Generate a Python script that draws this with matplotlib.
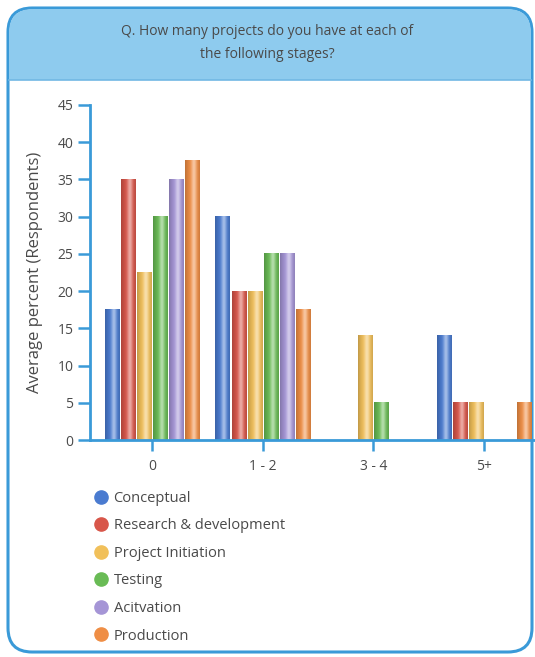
import matplotlib
matplotlib.use("Agg")
import matplotlib.pyplot as plt
import numpy as np
from matplotlib.patches import FancyBboxPatch, Rectangle
from matplotlib.lines import Line2D
from matplotlib.colors import to_rgb

plt.rcParams['font.family'] = ['Open Sans', 'DejaVu Sans']

groups = ["0", "1 - 2", "3 - 4", "5+"]
series = ["Conceptual", "Research & development", "Project Initiation",
          "Testing", "Acitvation", "Production"]
conceptual = [17.5, 30, 0, 14]
research = [35, 20, 0, 5]
initiation = [22.5, 20, 14, 5]
testing = [30, 25, 5, 0]
activation = [35, 25, 0, 0]
production = [37.5, 17.5, 0, 5]
values = [conceptual, research, initiation, testing, activation, production]
colors = ["#4a7bd0", "#d8564a", "#f1c05a", "#69bb55", "#a595d6", "#ef8e45"]

blue = "#3a9ad8"
text_col = "#4a4a4a"

fig = plt.figure(figsize=(5.35, 6.57), dpi=100)

# outer rounded frame and header band
W, H = 535, 657
def fx(px): return px / W
def fy(py): return 1 - py / H

frame = FancyBboxPatch((fx(8), fy(652)), fx(524), 644 / H,
                       boxstyle="round,pad=0,rounding_size=0.045",
                       transform=fig.transFigure, fc="white", ec=blue, lw=2.2,
                       zorder=0, mutation_aspect=W / H)
fig.add_artist(frame)
header = FancyBboxPatch((fx(9), fy(79)), fx(522), 70 / H,
                        boxstyle="round,pad=0,rounding_size=0.045",
                        transform=fig.transFigure, fc="#8ecbee", ec="none",
                        zorder=1, mutation_aspect=W / H)
fig.add_artist(header)
fig.add_artist(Rectangle((fx(9), fy(80)), fx(522), 40 / H,
                         transform=fig.transFigure, fc="#8ecbee", ec="none", zorder=1))
fig.add_artist(Line2D([fx(9), fx(531)], [fy(80), fy(80)], transform=fig.transFigure,
                      color="#72b8e4", lw=1.2, zorder=2))
fig.text(0.5, fy(43), "Q. How many projects do you have at each of\nthe following stages?",
         ha="center", va="center", fontsize=10, color=text_col, linespacing=1.75, zorder=3)

ax = fig.add_axes([fx(90), fy(440), 1 - fx(90), (440 - 105) / H])
ax.set_facecolor("none")

x = np.arange(len(groups))
slot = 0.145
width = 0.128


def shade(c):
    # cylindrical look: darker edges, light streak right of centre
    base = np.array(to_rgb(c))
    t = np.linspace(0, 1, 40)
    light = 0.5 * np.exp(-((t - 0.6) / 0.18) ** 2)
    dark = 0.2 * (np.abs(t - 0.55) / 0.55) ** 2
    rgb = base[None, :] * (1 - dark[:, None])
    rgb = rgb + (1 - rgb) * light[:, None]
    return np.clip(rgb, 0, 1)[None, :, :]


for i, (vals, c) in enumerate(zip(values, colors)):
    pos = x + (i - 2.5) * slot
    bars = ax.bar(pos, vals, width=width, color=c, zorder=2)
    for b in bars:
        if b.get_height() <= 0:
            continue
        ax.imshow(shade(c), extent=[b.get_x(), b.get_x() + b.get_width(), 0, b.get_height()],
                  aspect="auto", zorder=3, interpolation="bilinear")

ax.set_xlim(-0.56, 3.46)
ax.set_ylim(0, 45)
ax.set_yticks(np.arange(0, 46, 5))
ax.set_xticks(x)
ax.set_xticklabels(groups)

for s in ["top", "right"]:
    ax.spines[s].set_visible(False)
for s in ["left", "bottom"]:
    ax.spines[s].set_color(blue)
    ax.spines[s].set_linewidth(2)
    ax.spines[s].set_zorder(5)
ax.tick_params(axis="y", colors=blue, length=9, width=1.8, labelsize=10,
               labelcolor=text_col, pad=3)
ax.tick_params(axis="x", colors=blue, length=8, width=1.8, labelsize=10,
               labelcolor=text_col, pad=6)
ax.set_ylabel("Average percent (Respondents)", fontsize=12, color=text_col, labelpad=10)

handles = [Line2D([], [], marker="o", ls="none", markersize=9.5, markerfacecolor=c,
                  markeredgecolor=c) for c in colors]
fig.legend(handles, series, loc="upper left", bbox_to_anchor=(fx(88), fy(485)),
           frameon=False, fontsize=10.5, labelcolor=text_col, handletextpad=0.35,
           labelspacing=0.86, borderaxespad=0, handlelength=1.0)

fig.savefig("out.png", dpi=100)
